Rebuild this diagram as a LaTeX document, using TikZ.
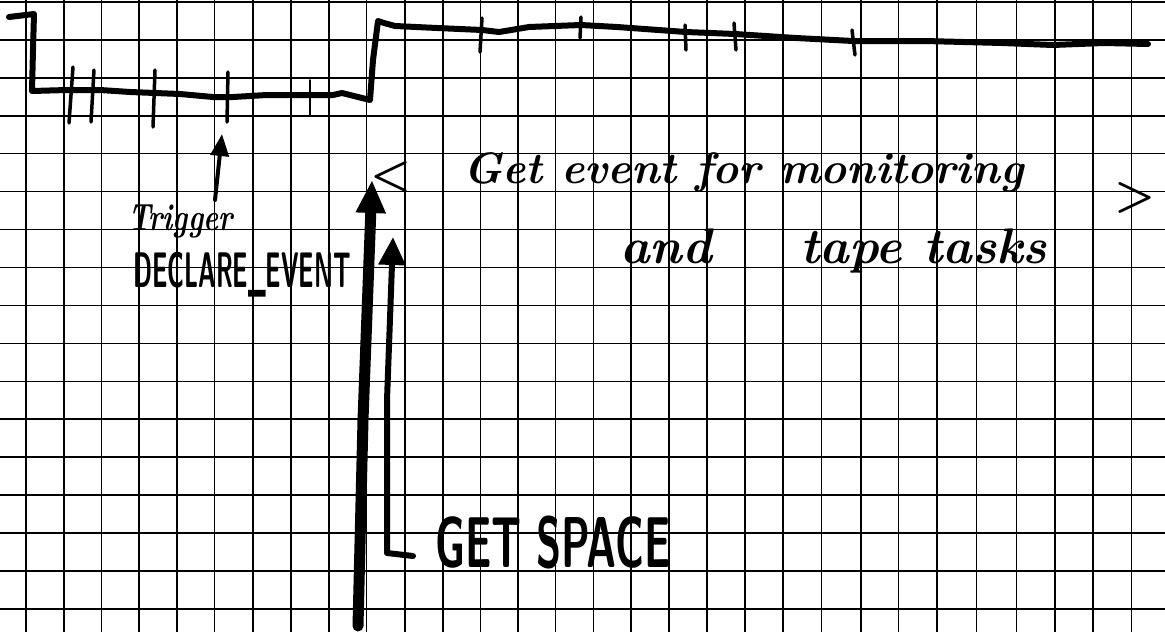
\documentclass[tikz,border=0pt]{standalone}
\usepackage{graphicx}
\usetikzlibrary{arrows.meta}
\begin{document}
\begin{tikzpicture}[x=1pt,y=-1pt,
  gridline/.style={line width=1.5pt,black},
  wave/.style={line width=6pt,line join=round,line cap=round},
  tickmark/.style={line width=3.5pt,line cap=round},
  thintick/.style={line width=1.8pt,line cap=round},
  hand/.style={font=\fontsize{44}{46}\selectfont\bfseries\itshape,inner sep=0pt,anchor=base west},
  smallhand/.style={font=\fontsize{38}{40}\selectfont\bfseries\itshape,inner sep=0pt,anchor=base west},
  caps/.style={font=\fontsize{50}{52}\selectfont\bfseries\sffamily,inner sep=0pt,anchor=base west},
  bigcaps/.style={font=\fontsize{72}{74}\selectfont\bfseries\sffamily,inner sep=0pt,anchor=base west},
  bracket/.style={font=\fontsize{46}{46}\selectfont\bfseries,inner sep=0pt,anchor=base west},
  bigarrow/.style={line width=11pt,line cap=round,-{Triangle[width=28pt,length=33pt]}},
  midarrow/.style={line width=6pt,line cap=round,line join=round,-{Triangle[width=26pt,length=28pt]}},
  smallarrow/.style={line width=4pt,line cap=round,-{Triangle[width=18pt,length=22pt]}}]
\useasboundingbox (0,0) rectangle (1165,632);
\fill[white] (0,0) rectangle (1165,632);
% grid
\foreach \x in {26,63.9,101.4,138.9,176.8,214.7,253,291.2,329.1,366.6,404.9,442.8,480.5,518.2,555.7,593.5,631.2,669.1,707,744.9,783.1,821.4,860.8,898.7,937,976.4,1016.6,1054.9,1093.1,1131.5}
  \draw[gridline] (\x,0) -- (\x,632);
\foreach \k in {0,...,16}{
  \pgfmathsetmacro{\yy}{2+37.93*\k}
  \draw[gridline] (0,\yy) -- (1165,\yy);
}
% waveform
\draw[wave] (9,17) -- (34,14) -- (33,50) -- (32,91) -- (67,90) -- (100,90) -- (130,92) -- (180,94) -- (213,97) -- (233,97) -- (267,95) -- (333,95) -- (342,93) -- (370,100) -- (373,60) -- (378,21) -- (384,23) -- (395,26) -- (437,28) -- (482,30) -- (499,32) -- (529,27) -- (581,25) -- (617,27) -- (686,32) -- (735,34) -- (796,38) -- (853,41) -- (925,41) -- (1002,43) -- (1053,45) -- (1104,43) -- (1148,44);
% ticks on low level
\draw[tickmark] (73,67) -- (69,123);
\draw[tickmark] (94,70) -- (91,122);
\draw[tickmark] (155,70) -- (153,127);
\draw[tickmark] (228,72) -- (227,122);
\draw[thintick] (310,80) -- (310,115);
% ticks on high level
\draw[tickmark] (482,18) -- (480,52);
\draw[tickmark] (581,17) -- (580,38);
\draw[tickmark] (685,25) -- (686,50);
\draw[tickmark] (734,23) -- (736,50);
\draw[tickmark] (852,30) -- (855,55);
% trigger arrow
\coordinate (trigS) at (215,200);
\coordinate (trigT) at (222,134);
\draw[smallarrow] (trigS) -- (trigT);
\node[smallhand] (trig) at (128,230) {\scalebox{0.75}[1]{Trigger}};
\node[caps] (decl) at (133,287) {\scalebox{0.48}[1]{DECLARE\_EVENT}};
% big arrow
\coordinate (bigS) at (358,626);
\coordinate (bigM) at (363,420);
\coordinate (bigT) at (372,180);
\draw[bigarrow] (bigS) -- (bigM) -- (bigT);
% get space arrow
\coordinate (gsA) at (413,556);
\coordinate (gsB) at (387,553);
\coordinate (gsC) at (387,400);
\coordinate (gsT) at (393,237);
\draw[midarrow] (gsA) -- (gsB) -- (gsC) -- (gsT);
\node[bigcaps] (gs) at (435,567) {\scalebox{0.57}[1]{GET SPACE}};
% brackets and text
\node[bracket] (lt) at (370,188) {<};
\node[bracket] (gt) at (1114,209) {>};
\node[hand] (l1) at (463,183) {Get event for monitoring};
\node[hand,font=\fontsize{50}{52}\selectfont\bfseries\itshape] (l2) at (620,263) {and\hspace{68pt} tape tasks};
\end{tikzpicture}
\end{document}
